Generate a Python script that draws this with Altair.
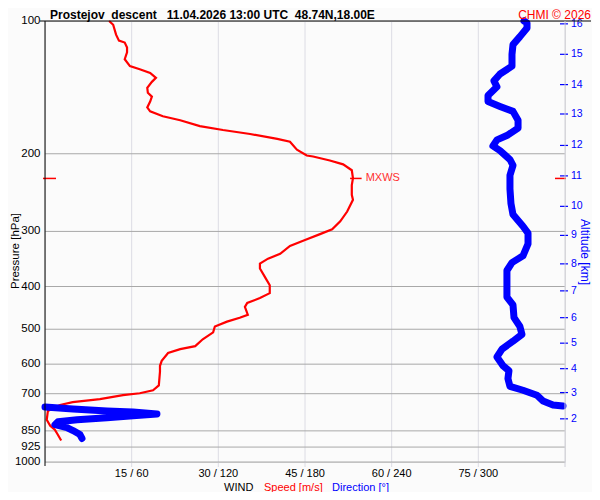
import altair as alt
import pandas as pd

# ---- wind speed profile (pressure hPa, speed m/s) ----
speed_p = [100, 102, 107.4, 110.8, 111.9, 114.8, 117.8, 122.1, 126.6, 128.6,
           131.2, 134.6, 137.4, 141.7, 145.4, 148.4, 152.3, 157.0, 160.3, 164.4,
           167.9, 173.1, 176.7, 180.4, 185.1, 187.9, 195.8, 201.9, 202.9, 207.2,
           211.4, 218.0, 227.2, 235.5, 247.9, 254.3, 270.4, 284.7, 296.6, 304.3,
           313.8, 323.6, 337.2, 345.9, 354.9, 364.1, 381.4, 397.4, 414.1, 424.9,
           435.9, 444.9, 463.5, 470.7, 480.5, 493.0, 508.2, 526.8, 546.1, 554.6,
           566.1, 589.8, 605.1, 624.0, 670.3, 687.6, 698.3, 705.6, 720.2, 731.3,
           742.7, 754.2, 766.0, 802.1, 827.3, 844.4, 866.4, 893.5]
speed_v = [11.1, 11.8, 12.3, 12.8, 13.8, 14.2, 14.2, 13.8, 14.7, 16.4,
           18.2, 19.2, 18.5, 17.7, 17.8, 18.5, 18.2, 17.7, 18.2, 20.4,
           23.4, 26.8, 30.8, 35.5, 40.2, 42.4, 43.6, 45.3, 46.4, 49.3,
           51.6, 53.1, 53.3, 53.1, 53.1, 53.3, 52.3, 51.1, 49.7, 47.6,
           45.0, 42.4, 40.7, 38.6, 37.2, 37.2, 38.1, 38.9, 38.9, 37.2,
           35.0, 34.6, 35.1, 33.7, 31.5, 29.4, 29.1, 27.3, 26.0, 23.4,
           21.3, 20.2, 19.9, 19.9, 19.7, 18.7, 16.4, 13.5, 9.5, 4.8,
           2.6, 1.4, 0.5, 0.3, 0.9, 1.7, 2.2, 2.8]

# ---- wind direction profile (two pieces, wrapping at 360/0) ----
dir_p_a = [100, 101, 103.7, 108.5, 113.1, 119.0, 126.6, 131.9, 136.7, 141.0,
           147.6, 152.3, 156.2, 160.3, 167.9, 174.9, 181.3, 186.0, 192.0, 196.8,
           206.1, 212.5, 223.7, 240.4, 259.6, 274.7, 292.1, 302.8, 320.3, 340.8,
           353.1, 367.9, 393.3, 422.7, 440.4, 470.7, 493.0, 513.5, 532.2, 554.6,
           577.8, 605.1, 620.8, 646.7, 673.7, 687.6, 705.6, 727.6, 742.7, 746.5]
dir_v_a = [331.6, 333.7, 333.7, 328.8, 324.0, 323.3, 323.3, 315.0, 310.8, 312.9,
           306.7, 306.7, 315.0, 324.0, 327.5, 327.5, 320.5, 312.9, 310.1, 315.0,
           321.9, 324.0, 321.9, 321.9, 322.6, 324.0, 330.9, 334.4, 334.4, 330.9,
           323.3, 319.8, 319.8, 319.8, 324.0, 324.7, 328.8, 330.2, 324.0, 316.4,
           312.9, 317.1, 321.2, 320.5, 321.9, 330.9, 340.6, 344.8, 351.7, 358.6]
dir_p_b = [750.4, 758.1, 766.0, 769.9, 777.9, 786.0, 794.1, 802.1, 810.4, 823.0,
           835.6, 848.6, 866.4, 884.4]
dir_v_b = [0, 19.4, 42.9, 60.9, 77.5, 60.9, 42.9, 22.2, 9.0, 6.9,
           15.2, 19.4, 24.2, 25.6]

# ---- axes ----
press_ticks = [100, 200, 300, 400, 500, 600, 700, 850, 925, 1000]
grid_press = [200, 300, 400, 500, 600, 700, 850, 925, 1000]
speed_ticks = [15, 30, 45, 60, 75]
alt_km = [2, 3, 4, 5, 6, 7, 8, 9, 10, 11, 12, 13, 14, 15, 16]
alt_press = [798.2, 695.9, 614.3, 537.7, 470.7, 409.2, 355.4, 306.3, 263.2,
             224.5, 191.5, 162.5, 139.4, 119.0, 101.5]

# ---- maximum wind ----
mxws_p = [227.5]
mxws_v = [53.6]

FONT = "Liberation Sans"
RED = "#ff0000"
BLUE = "#0000ff"
W, H = 520, 441

df_speed = pd.DataFrame({"p": speed_p, "v": speed_v, "i": range(len(speed_p))})
df_dir = pd.DataFrame({
    "p": dir_p_a + dir_p_b,
    "d": dir_v_a + dir_v_b,
    "seg": ["a"] * len(dir_p_a) + ["b"] * len(dir_p_b),
    "i": range(len(dir_p_a) + len(dir_p_b)),
})
df_grid = pd.DataFrame({"p": grid_press})
df_yt = pd.DataFrame({"p": press_ticks, "t": [str(v) for v in press_ticks]})
df_xt = pd.DataFrame({"v": speed_ticks, "t": [f"{v} / {v * 4}" for v in speed_ticks]})
df_alt = pd.DataFrame({"p": alt_press, "km": [str(k) for k in alt_km]})
df_mx = pd.DataFrame({"p": mxws_p, "v": mxws_v})

xs = alt.Scale(domain=[0, 90], nice=False, zero=False)
ys = alt.Scale(type="log", domain=[100, 1000], reverse=True, nice=False)


def Y(f="p:Q"):
    return alt.Y(f, scale=ys, axis=None)


def X(f):
    return alt.X(f, scale=xs, axis=None)


# grids
hgrid = alt.Chart(df_grid).mark_rule(color="#a8a8a8", strokeWidth=1).encode(
    y=Y(), x=alt.value(0), x2=alt.value(W))
vgrid = alt.Chart(df_xt).mark_rule(color="#dcdce4", strokeWidth=1).encode(
    x=X("v:Q"), y=alt.value(0), y2=alt.value(H + 5))

# axis labels
ylabels = alt.Chart(df_yt).mark_text(
    align="right", baseline="middle", fontSize=11.5, font=FONT, color="#000000").encode(
    y=Y(), x=alt.value(-4.5), text="t:N")
xlabels = alt.Chart(df_xt).mark_text(
    align="center", baseline="top", fontSize=11, font=FONT, color="#000000").encode(
    x=X("v:Q"), y=alt.value(H + 6), text="t:N")

speed_line = alt.Chart(df_speed).mark_line(color=RED, strokeWidth=2.2).encode(
    x=X("v:Q"), y=Y(), order="i:Q")

dir_line = alt.Chart(df_dir).transform_calculate(xv="datum.d / 4").mark_line(
    color=BLUE, strokeWidth=7, strokeCap="round", strokeJoin="round").encode(
    x=X("xv:Q"), y=Y(), detail="seg:N", order="i:Q")

mx_cross = alt.Chart(df_mx).transform_calculate(
    xa="datum.v - 0.8", xb="datum.v + 1.2").mark_rule(color=RED, strokeWidth=1.5).encode(
    x=X("xa:Q"), x2="xb:Q", y=Y())
mx_left = alt.Chart(df_mx).mark_rule(color=RED, strokeWidth=1.5).encode(
    y=Y(), x=alt.value(-2), x2=alt.value(11))
mx_right = alt.Chart(df_mx).mark_rule(color=RED, strokeWidth=1.5).encode(
    y=Y(), x=alt.value(510), x2=alt.value(521))
mx_text = alt.Chart(df_mx).mark_text(
    text="MXWS", align="left", baseline="middle", fontSize=11, font=FONT,
    color="#ff3030", dx=11).encode(x=X("v:Q"), y=Y())

alt_ticks = alt.Chart(df_alt).mark_rule(color=BLUE, strokeWidth=1.2).encode(
    y=Y(), x=alt.value(515), x2=alt.value(523))
alt_labels = alt.Chart(df_alt).mark_text(
    align="left", baseline="middle", fontSize=10.5, font=FONT, color=BLUE).encode(
    y=Y(), x=alt.value(526), text="km:N")

top_line = alt.Chart(df_mx).mark_rule(color="#000000", strokeWidth=1).encode(
    x=alt.value(-5), x2=alt.value(546), y=alt.value(0))
left_line = alt.Chart(df_mx).mark_rule(color="#000000", strokeWidth=1).encode(
    x=alt.value(0), y=alt.value(0), y2=alt.value(H + 4))
right_line = alt.Chart(df_mx).mark_rule(color="#d0d0d8", strokeWidth=1).encode(
    x=alt.value(W), y=alt.value(0), y2=alt.value(H + 5))


def label(txt, x, y, color="#000000", size=12, bold=False, align="left", angle=0,
          baseline="alphabetic"):
    kw = dict(text=txt, align=align, baseline=baseline, fontSize=size, font=FONT,
              color=color, fontWeight="bold" if bold else "normal")
    if angle:
        kw["angle"] = angle
    return alt.Chart(df_mx).mark_text(**kw).encode(x=alt.value(x), y=alt.value(y))


NB = "\u00a0"
title_txt = ("Prostejov" + NB * 2 + "descent" + NB * 3 + "11.04.2026 13:00 UTC"
             + NB * 2 + "48.74N,18.00E")
texts = [
    label(title_txt, 5, -2, bold=True, size=12),
    label("CHMI © 2026", 546, -2, color=RED, size=12, align="right"),
    label("Pressure [hPa]", -26, 230, size=11.5, align="center", angle=270),
    label("Altitude [km]", 536, 231, color=BLUE, size=12, align="center", angle=90),
    label("WIND", 179, 469.5, size=11),
    label("Speed [m/s]", 219, 469.5, color=RED, size=11),
    label("Direction [°]", 287, 469.5, color=BLUE, size=11),
]

chart = alt.layer(
    vgrid, hgrid, speed_line, dir_line, mx_cross, mx_left, mx_right, mx_text,
    alt_ticks, alt_labels, top_line, left_line, right_line, ylabels, xlabels, *texts
).properties(
    width=W, height=H,
    padding={"left": 37, "top": 13, "right": 27, "bottom": 30},
    autosize=alt.AutoSizeParams(type="none"),
    background="#fbfbfb",
).configure_view(fill="#f0f0ff", strokeWidth=0).configure(font=FONT)

chart.save("out.html", embed_options={"renderer": "svg", "actions": False})
